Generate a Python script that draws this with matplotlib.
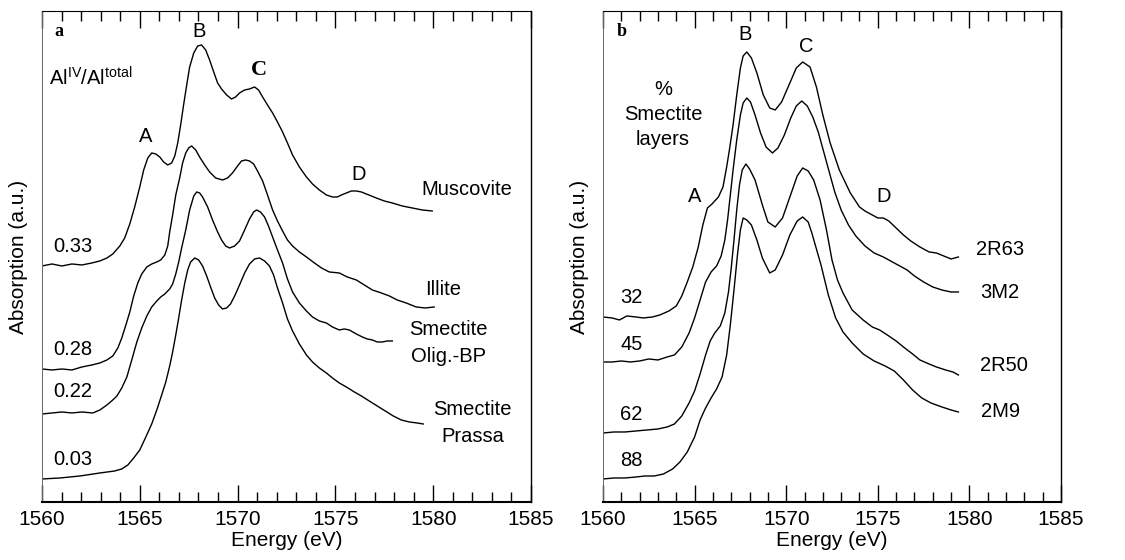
import numpy as np
import matplotlib
matplotlib.use("Agg")
import matplotlib.pyplot as plt
from matplotlib.ticker import MultipleLocator

plt.rcParams['font.family'] = ['Liberation Sans', 'DejaVu Sans']
plt.rcParams['mathtext.default'] = 'regular'

# ---- Panel a : Al K-edge XANES, reference minerals (energy in eV, absorption in a.u.)
mus_e = [1560.00, 1560.51, 1561.02, 1561.53, 1562.04, 1562.55, 1562.96, 1563.32, 1563.62, 1563.98,
         1564.23, 1564.49, 1564.74, 1565.00, 1565.20, 1565.41, 1565.61, 1565.82, 1566.02, 1566.22,
         1566.43, 1566.63, 1566.79, 1566.94, 1567.09, 1567.24, 1567.40, 1567.55, 1567.76, 1567.96,
         1568.16, 1568.37, 1568.57, 1568.78, 1568.98, 1569.18, 1569.44, 1569.69, 1569.90, 1570.10,
         1570.36, 1570.61, 1570.87, 1571.07, 1571.28, 1571.53, 1571.79, 1572.04, 1572.30, 1572.55,
         1572.81, 1573.16, 1573.52, 1573.83, 1574.18, 1574.54, 1574.85, 1575.10, 1575.31, 1575.56,
         1575.82, 1576.07, 1576.33, 1576.58, 1576.84, 1577.09, 1577.50, 1577.91, 1578.42, 1578.93,
         1579.44, 1579.95]
mus_y = [2.36, 2.38, 2.36, 2.38, 2.37, 2.39, 2.41, 2.44, 2.48, 2.56,
         2.64, 2.78, 2.95, 3.15, 3.32, 3.44, 3.49, 3.48, 3.45, 3.40,
         3.37, 3.39, 3.46, 3.59, 3.77, 3.97, 4.17, 4.35, 4.49, 4.56,
         4.57, 4.52, 4.42, 4.30, 4.19, 4.13, 4.07, 4.03, 4.05, 4.09,
         4.12, 4.13, 4.15, 4.12, 4.05, 3.97, 3.89, 3.80, 3.70, 3.59,
         3.47, 3.35, 3.25, 3.18, 3.12, 3.07, 3.05, 3.05, 3.07, 3.09,
         3.11, 3.11, 3.10, 3.08, 3.06, 3.04, 3.01, 2.99, 2.96, 2.94,
         2.92, 2.91]

ill_e = [1560.00, 1560.51, 1561.02, 1561.53, 1562.04, 1562.55, 1562.96, 1563.32, 1563.62, 1563.88,
         1564.08, 1564.29, 1564.49, 1564.69, 1564.90, 1565.10, 1565.36, 1565.61, 1565.87, 1566.07,
         1566.28, 1566.43, 1566.53, 1566.68, 1566.84, 1567.04, 1567.19, 1567.35, 1567.50, 1567.65,
         1567.86, 1568.06, 1568.32, 1568.57, 1568.88, 1569.23, 1569.49, 1569.74, 1570.00, 1570.20,
         1570.41, 1570.61, 1570.82, 1571.02, 1571.28, 1571.53, 1571.79, 1572.04, 1572.30, 1572.55,
         1572.81, 1573.16, 1573.52, 1573.93, 1574.29, 1574.69, 1575.20, 1575.61, 1576.07, 1576.48,
         1576.89, 1577.35, 1577.76, 1578.16, 1578.62, 1579.13, 1579.59, 1580.05]
ill_y = [1.33, 1.32, 1.33, 1.32, 1.35, 1.37, 1.39, 1.42, 1.46, 1.54,
         1.64, 1.77, 1.90, 2.06, 2.19, 2.28, 2.35, 2.38, 2.40, 2.42,
         2.47, 2.56, 2.70, 2.87, 3.07, 3.24, 3.39, 3.49, 3.54, 3.56,
         3.52, 3.45, 3.37, 3.30, 3.24, 3.22, 3.24, 3.29, 3.36, 3.41,
         3.42, 3.41, 3.38, 3.31, 3.21, 3.07, 2.92, 2.81, 2.71, 2.62,
         2.56, 2.50, 2.45, 2.39, 2.34, 2.30, 2.29, 2.25, 2.22, 2.17,
         2.12, 2.09, 2.06, 2.02, 1.99, 1.95, 1.94, 1.95]

olig_e = [1560.00, 1560.51, 1561.02, 1561.53, 1562.04, 1562.60, 1562.96, 1563.32, 1563.62, 1563.83,
          1564.08, 1564.34, 1564.59, 1564.85, 1565.10, 1565.36, 1565.61, 1565.87, 1566.07, 1566.28,
          1566.53, 1566.68, 1566.84, 1566.99, 1567.14, 1567.35, 1567.55, 1567.76, 1567.91, 1568.06,
          1568.21, 1568.47, 1568.72, 1568.98, 1569.18, 1569.39, 1569.59, 1569.85, 1570.10, 1570.36,
          1570.61, 1570.82, 1570.97, 1571.17, 1571.38, 1571.58, 1571.79, 1572.04, 1572.30, 1572.55,
          1572.81, 1573.16, 1573.52, 1573.83, 1574.18, 1574.54, 1574.85, 1575.20, 1575.46, 1575.71,
          1576.07, 1576.38, 1576.63, 1576.89, 1577.14, 1577.40, 1577.65, 1577.91]
olig_y = [0.88, 0.89, 0.90, 0.89, 0.90, 0.89, 0.92, 0.97, 1.02, 1.06,
          1.14, 1.25, 1.42, 1.60, 1.74, 1.86, 1.95, 2.01, 2.05, 2.08,
          2.13, 2.18, 2.28, 2.40, 2.54, 2.72, 2.92, 3.06, 3.10, 3.09,
          3.05, 2.95, 2.82, 2.70, 2.62, 2.56, 2.54, 2.56, 2.61, 2.72,
          2.83, 2.90, 2.92, 2.90, 2.85, 2.76, 2.65, 2.52, 2.39, 2.23,
          2.10, 1.99, 1.91, 1.85, 1.81, 1.79, 1.75, 1.72, 1.73, 1.72,
          1.68, 1.65, 1.63, 1.62, 1.60, 1.60, 1.61, 1.61]

pra_e = [1560.00, 1560.92, 1561.94, 1562.96, 1563.72, 1564.08, 1564.39, 1564.69, 1565.00, 1565.31,
         1565.61, 1565.87, 1566.12, 1566.33, 1566.53, 1566.68, 1566.84, 1566.99, 1567.14, 1567.30,
         1567.45, 1567.60, 1567.81, 1568.01, 1568.21, 1568.42, 1568.62, 1568.83, 1569.03, 1569.23,
         1569.44, 1569.64, 1569.85, 1570.10, 1570.36, 1570.61, 1570.87, 1571.12, 1571.38, 1571.63,
         1571.84, 1572.04, 1572.30, 1572.55, 1572.81, 1573.16, 1573.52, 1573.83, 1574.18, 1574.54,
         1574.85, 1575.20, 1575.56, 1575.97, 1576.33, 1576.73, 1577.14, 1577.55, 1577.96, 1578.37,
         1578.78, 1579.18, 1579.49]
pra_y = [0.23, 0.24, 0.26, 0.29, 0.31, 0.33, 0.37, 0.44, 0.52, 0.65,
         0.78, 0.92, 1.07, 1.20, 1.36, 1.50, 1.67, 1.84, 2.02, 2.19,
         2.32, 2.40, 2.44, 2.42, 2.36, 2.26, 2.15, 2.04, 1.97, 1.93,
         1.94, 1.98, 2.06, 2.17, 2.29, 2.38, 2.43, 2.44, 2.41, 2.36,
         2.27, 2.14, 1.99, 1.83, 1.71, 1.58, 1.47, 1.40, 1.34, 1.29,
         1.24, 1.19, 1.15, 1.10, 1.06, 1.01, 0.96, 0.91, 0.86, 0.82,
         0.80, 0.79, 0.78]

# ---- Panel b : illite/smectite samples
r63_e = [1560.0, 1560.5, 1560.9, 1561.3, 1561.8, 1562.2, 1562.7, 1563.1, 1563.6, 1564.0,
         1564.3, 1564.6, 1564.9, 1565.2, 1565.45, 1565.7, 1565.95, 1566.3, 1566.55, 1566.75,
         1566.9, 1567.1, 1567.3, 1567.5, 1567.65, 1567.85, 1568.1, 1568.4, 1568.75, 1569.1,
         1569.4, 1569.75, 1570.2, 1570.55, 1570.9, 1571.3, 1571.65, 1572.0, 1572.4, 1572.9,
         1573.5, 1574.0, 1574.3, 1574.6, 1575.0, 1575.3, 1575.6, 1576.0, 1576.4, 1576.8,
         1577.3, 1577.8, 1578.2, 1578.6, 1579.0, 1579.4]
r63_y = [1.85, 1.84, 1.82, 1.86, 1.85, 1.84, 1.85, 1.87, 1.91, 1.96,
         2.06, 2.20, 2.35, 2.55, 2.77, 2.94, 2.98, 3.05, 3.15, 3.35,
         3.52, 3.77, 4.07, 4.34, 4.46, 4.50, 4.44, 4.29, 4.07, 3.94,
         3.92, 4.00, 4.19, 4.34, 4.40, 4.35, 4.15, 3.87, 3.59, 3.32,
         3.09, 2.95, 2.91, 2.88, 2.84, 2.84, 2.81, 2.74, 2.67, 2.61,
         2.55, 2.50, 2.49, 2.46, 2.43, 2.45]

m2_e = [1560.0, 1560.5, 1561.0, 1561.5, 1562.0, 1562.5, 1563.0, 1563.5, 1563.9, 1564.3,
        1564.7, 1565.0, 1565.3, 1565.6, 1565.9, 1566.2, 1566.45, 1566.65, 1566.8, 1566.95,
        1567.1, 1567.3, 1567.5, 1567.65, 1567.85, 1568.05, 1568.3, 1568.6, 1568.9, 1569.25,
        1569.55, 1569.9, 1570.25, 1570.55, 1570.85, 1571.15, 1571.45, 1571.75, 1572.05, 1572.35,
        1572.65, 1573.0, 1573.4, 1573.8, 1574.3, 1574.8, 1575.3, 1575.7, 1576.1, 1576.6,
        1577.0, 1577.5, 1578.0, 1578.5, 1579.0, 1579.4]
m2_y = [1.40, 1.40, 1.41, 1.40, 1.41, 1.43, 1.42, 1.45, 1.47, 1.55,
        1.69, 1.84, 2.02, 2.20, 2.30, 2.36, 2.46, 2.62, 2.82, 3.07,
        3.32, 3.62, 3.87, 3.99, 4.04, 4.00, 3.87, 3.69, 3.55, 3.49,
        3.54, 3.67, 3.84, 3.96, 4.01, 3.96, 3.85, 3.70, 3.50, 3.30,
        3.10, 2.92, 2.77, 2.66, 2.56, 2.49, 2.45, 2.41, 2.37, 2.32,
        2.26, 2.20, 2.15, 2.12, 2.10, 2.10]

r50_e = [1560.0, 1560.6, 1561.2, 1561.8, 1562.4, 1563.0, 1563.5, 1563.9, 1564.3, 1564.7,
         1565.0, 1565.3, 1565.6, 1565.85, 1566.1, 1566.4, 1566.65, 1566.85, 1567.0, 1567.15,
         1567.3, 1567.45, 1567.6, 1567.8, 1568.0, 1568.3, 1568.7, 1569.0, 1569.4, 1569.8,
         1570.2, 1570.6, 1570.9, 1571.2, 1571.5, 1571.85, 1572.2, 1572.5, 1572.8, 1573.1,
         1573.6, 1574.2, 1574.7, 1575.1, 1575.6, 1576.0, 1576.4, 1576.9, 1577.3, 1577.8,
         1578.2, 1578.7, 1579.1, 1579.4]
r50_y = [0.69, 0.70, 0.70, 0.71, 0.72, 0.73, 0.75, 0.78, 0.86, 0.99,
         1.11, 1.28, 1.47, 1.61, 1.69, 1.76, 1.89, 2.10, 2.34, 2.62,
         2.92, 3.17, 3.32, 3.38, 3.33, 3.22, 2.97, 2.80, 2.75, 2.84,
         3.05, 3.26, 3.34, 3.31, 3.22, 3.02, 2.72, 2.42, 2.22, 2.09,
         1.92, 1.82, 1.75, 1.72, 1.66, 1.61, 1.55, 1.48, 1.42, 1.38,
         1.35, 1.32, 1.30, 1.27]

m9_e = [1560.0, 1560.6, 1561.2, 1561.8, 1562.3, 1562.8, 1563.3, 1563.8, 1564.2, 1564.6,
        1565.0, 1565.3, 1565.6, 1565.9, 1566.2, 1566.5, 1566.75, 1566.95, 1567.15, 1567.35,
        1567.5, 1567.65, 1567.85, 1568.1, 1568.4, 1568.7, 1569.1, 1569.4, 1569.8, 1570.2,
        1570.6, 1570.9, 1571.2, 1571.4, 1571.9, 1572.3, 1572.7, 1573.1, 1573.6, 1574.2,
        1574.8, 1575.4, 1575.9, 1576.4, 1576.9, 1577.4, 1577.9, 1578.5, 1579.0, 1579.4]
m9_y = [0.23, 0.24, 0.24, 0.25, 0.26, 0.26, 0.28, 0.33, 0.40, 0.50,
        0.65, 0.82, 0.94, 1.04, 1.13, 1.25, 1.47, 1.77, 2.12, 2.49,
        2.72, 2.84, 2.82, 2.77, 2.62, 2.44, 2.29, 2.32, 2.47, 2.67,
        2.81, 2.85, 2.80, 2.69, 2.37, 2.07, 1.84, 1.70, 1.59, 1.48,
        1.41, 1.36, 1.31, 1.22, 1.12, 1.04, 0.99, 0.95, 0.92, 0.90]

ratio_labels = ['0.33', '0.28', '0.22', '0.03']
smectite_pct = ['32', '45', '62', '88']
sample_names_b = ['2R63', '3M2', '2R50', '2M9']

FS = 14.5


def style_axes(ax):
    ax.set_xlim(1560, 1585)
    ax.set_ylim(0, 4.91)
    ax.xaxis.set_major_locator(MultipleLocator(5))
    ax.xaxis.set_minor_locator(MultipleLocator(1))
    ax.tick_params(axis='x', which='both', direction='in', top=True, bottom=True,
                   labelsize=15, width=1.0, pad=6)
    ax.tick_params(axis='x', which='major', length=12.5)
    ax.tick_params(axis='x', which='minor', length=7)
    ax.set_yticks([])
    ax.set_xlabel('Energy (eV)', fontsize=15, labelpad=1)
    ax.set_ylabel('Absorption (a.u.)', fontsize=15, labelpad=10)
    ax.spines['left'].set_linewidth(0.7)
    ax.spines['left'].set_color('#666666')
    ax.spines['top'].set_linewidth(0.8)
    ax.spines['right'].set_linewidth(1.0)
    ax.spines['bottom'].set_linewidth(1.5)


fig = plt.figure(figsize=(11.25, 5.6), dpi=100)
ax_a = fig.add_axes([0.0373, 0.1036, 0.4347, 0.8768])
ax_b = fig.add_axes([0.536, 0.1036, 0.4071, 0.8768])

# ---- panel a
for e, y in [(mus_e, mus_y), (ill_e, ill_y), (olig_e, olig_y), (pra_e, pra_y)]:
    ax_a.plot(e, y, color='black', lw=1.0)
style_axes(ax_a)

ax_a.text(1560.88, 4.70, 'a', fontsize=13, fontweight='bold', family='Liberation Serif',
          ha='center', va='center')
ax_a.text(1568.03, 4.70, 'B', fontsize=FS, ha='center', va='center')
ax_a.text(1571.09, 4.32, 'C', fontsize=16, fontweight='bold', family='Liberation Serif',
          ha='center', va='center')
ax_a.text(1565.31, 3.65, 'A', fontsize=FS, ha='center', va='center')
ax_a.text(1576.19, 3.27, 'D', fontsize=FS, ha='center', va='center')
ax_a.text(1560.37, 4.16, 'Al$^{IV}$/Al$^{total}$', fontsize=FS, ha='left', va='baseline')
ax_a.text(1581.7, 3.12, 'Muscovite', fontsize=FS, ha='center', va='center')
ax_a.text(1580.5, 2.12, 'Illite', fontsize=FS, ha='center', va='center')
ax_a.text(1580.76, 1.72, 'Smectite', fontsize=FS, ha='center', va='center')
ax_a.text(1580.76, 1.45, 'Olig.-BP', fontsize=FS, ha='center', va='center')
ax_a.text(1582.0, 0.92, 'Smectite', fontsize=FS, ha='center', va='center')
ax_a.text(1582.0, 0.65, 'Prassa', fontsize=FS, ha='center', va='center')
for lab, y in zip(ratio_labels, [2.55, 1.52, 1.10, 0.42]):
    ax_a.text(1561.58, y, lab, fontsize=FS, ha='center', va='center')

# ---- panel b
for e, y in [(r63_e, r63_y), (m2_e, m2_y), (r50_e, r50_y), (m9_e, m9_y)]:
    ax_b.plot(e, y, color='black', lw=1.0)
style_axes(ax_b)

ax_b.text(1561.0, 4.70, 'b', fontsize=13, fontweight='bold', family='Liberation Serif',
          ha='center', va='center')
ax_b.text(1567.74, 4.67, 'B', fontsize=FS, ha='center', va='center')
ax_b.text(1571.1, 4.55, 'C', fontsize=FS, ha='center', va='center')
ax_b.text(1565.0, 3.05, 'A', fontsize=FS, ha='center', va='center')
ax_b.text(1575.3, 3.05, 'D', fontsize=FS, ha='center', va='center')
ax_b.text(1563.28, 4.12, '%', fontsize=FS, ha='center', va='center')
ax_b.text(1563.28, 3.87, 'Smectite', fontsize=FS, ha='center', va='center')
ax_b.text(1563.28, 3.62, 'layers', fontsize=FS, ha='center', va='center')
for lab, x, y in zip(sample_names_b, [1581.68, 1581.68, 1581.86, 1581.68], [2.52, 2.09, 1.36, 0.90]):
    ax_b.text(x, y, lab, fontsize=FS, ha='center', va='center')
for lab, y in zip(smectite_pct, [2.04, 1.57, 0.87, 0.41]):
    ax_b.text(1561.55, y, lab, fontsize=FS, ha='center', va='center')

fig.savefig('out.png', dpi=100)
